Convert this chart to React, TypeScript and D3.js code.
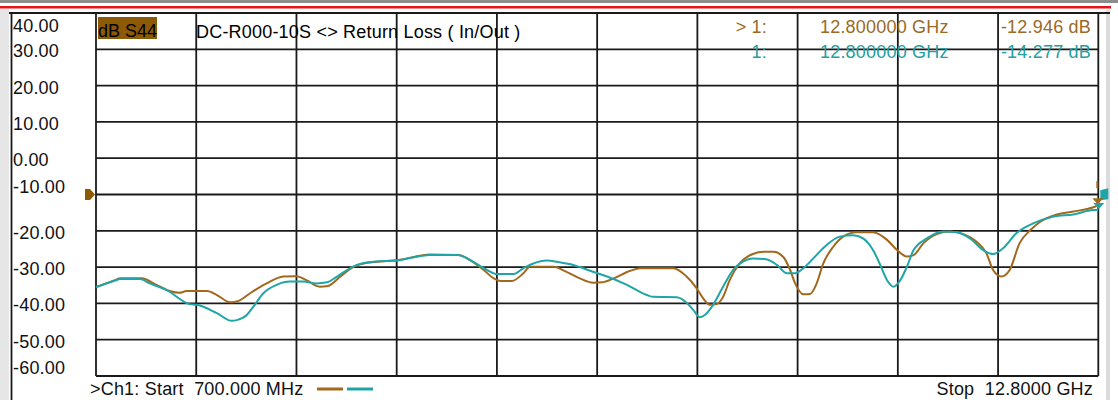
import React from 'react';
import * as d3 from 'd3';

// trace data (GHz, dB)
const freqS44Mem = [0.7, 0.93, 0.99, 1.25, 1.43, 1.59, 1.71, 1.79, 2.04, 2.16, 2.32, 2.42, 2.56, 2.76, 2.96, 3.12, 3.24, 3.4, 3.5, 3.65, 3.81, 3.93, 4.37, 4.73, 5.07, 5.21, 5.38, 5.5, 5.58, 5.72, 5.86, 5.94, 6.22, 6.38, 6.54, 6.7, 6.81, 6.95, 7.15, 7.27, 7.67, 7.83, 7.95, 8.03, 8.11, 8.19, 8.27, 8.35, 8.47, 8.63, 8.76, 8.88, 9.0, 9.08, 9.14, 9.24, 9.32, 9.4, 9.48, 9.6, 9.72, 9.88, 10.08, 10.25, 10.37, 10.49, 10.57, 10.69, 10.85, 11.01, 11.17, 11.33, 11.45, 11.53, 11.63, 11.73, 11.85, 11.98, 12.1, 12.3, 12.5, 12.74, 12.8];
const dbS44Mem = [-35.5, -33.6, -33.1, -33.1, -34.9, -36.6, -37.1, -36.6, -36.6, -37.7, -39.7, -39.3, -37.2, -34.5, -32.6, -32.5, -33.6, -35.4, -35.2, -32.6, -29.9, -29.0, -28.0, -26.5, -26.7, -28.0, -30.8, -33.1, -33.8, -33.8, -31.7, -29.9, -29.9, -31.3, -33.1, -34.3, -34.2, -33.1, -31.0, -30.3, -30.3, -32.6, -35.8, -38.6, -40.4, -40.2, -38.2, -33.6, -29.0, -26.4, -25.8, -25.8, -27.3, -30.8, -34.5, -37.5, -37.4, -34.5, -29.0, -24.4, -21.6, -20.4, -20.4, -22.5, -25.3, -27.1, -26.7, -23.4, -20.9, -20.2, -20.9, -23.0, -26.2, -30.8, -32.6, -30.8, -23.4, -19.8, -17.5, -15.5, -14.7, -13.5, -12.946];

const freqS44 = [0.7, 0.93, 0.99, 1.23, 1.35, 1.55, 1.83, 1.92, 2.16, 2.34, 2.4, 2.52, 2.6, 2.72, 2.88, 3.04, 3.2, 3.36, 3.49, 3.61, 3.73, 3.85, 4.05, 4.33, 4.61, 4.73, 5.07, 5.25, 5.42, 5.54, 5.74, 5.86, 5.98, 6.14, 6.3, 6.46, 6.7, 6.87, 7.11, 7.35, 7.43, 7.71, 7.83, 7.91, 7.99, 8.05, 8.15, 8.27, 8.39, 8.51, 8.63, 8.8, 8.92, 9.04, 9.14, 9.24, 9.36, 9.52, 9.68, 9.84, 9.96, 10.08, 10.16, 10.25, 10.33, 10.41, 10.49, 10.57, 10.73, 10.93, 11.09, 11.25, 11.41, 11.53, 11.65, 11.81, 12.02, 12.26, 12.5, 12.74, 12.8];
const dbS44 = [-35.6, -33.7, -33.3, -33.3, -34.5, -36.3, -40.2, -40.4, -42.7, -44.8, -44.6, -43.2, -40.9, -37.2, -34.9, -34.0, -34.0, -34.5, -34.2, -32.6, -30.8, -29.4, -28.5, -28.2, -27.0, -26.7, -26.7, -28.5, -30.8, -31.9, -31.9, -30.3, -29.0, -28.2, -28.7, -29.4, -31.3, -32.6, -34.9, -37.7, -38.2, -38.3, -39.8, -41.8, -43.8, -43.2, -40.4, -35.4, -30.8, -28.5, -27.6, -27.9, -29.4, -31.7, -31.7, -30.3, -27.6, -23.9, -21.6, -21.2, -22.1, -25.3, -29.0, -33.6, -35.4, -33.6, -29.9, -25.3, -22.1, -20.2, -20.4, -22.1, -25.3, -26.4, -24.8, -20.7, -17.9, -16.1, -15.5, -14.3, -14.277];

const yTicks = [40, 30, 20, 10, 0, -10, -20, -30, -40, -50, -60];
const xDivisions = d3.range(0, 11);
const startFreq = 0.7;
const stopFreq = 12.8;
const refLevel = -10;

const titleText = 'DC-R000-10S <> Return Loss ( In/Out )';
const traceLabel = 'dB S44';
const markerRows = [
  { name: '> 1:', freq: '12.800000 GHz', value: '-12.946 dB' },
  { name: '1:', freq: '12.800000 GHz', value: '-14.277 dB' },
];

const BROWN = '#a2691d';
const TEAL = '#1fa5a7';
const FONT = '"Liberation Sans", Arial, sans-serif';

const W = 1118;
const H = 400;
const left = 96;
const right = 1098.3;
const top = 13;
const bottom = 376;

const App: React.FC = () => {
  const x = d3.scaleLinear().domain([startFreq, stopFreq]).range([left, right]);
  const y = d3.scaleLinear().domain([-60, 40]).range([bottom, top]);
  const gx = d3.scaleLinear().domain([0, 10]).range([left, right]);

  const line = d3.line<[number, number]>()
    .x(d => x(d[0]))
    .y(d => y(d[1]))
    .curve(d3.curveMonotoneX);

  const memPts = freqS44Mem.map((f, i) => [f, dbS44Mem[i]] as [number, number]);
  const datPts = freqS44.map((f, i) => [f, dbS44[i]] as [number, number]);

  // labels sit just under their grid line, clamped inside the frame
  const labelY = (v: number) => {
    if (v === refLevel) return y(v) - 1.5;
    return Math.min(374, Math.max(32, y(v) + 8));
  };

  const mx = x(stopFreq);
  const myB = y(dbS44Mem[dbS44Mem.length - 1]);
  const myT = y(dbS44[dbS44.length - 1]);
  const ry = y(refLevel);

  return (
    <svg width={W} height={H} style={{ position: 'absolute', left: 0, top: 0, background: '#fff' }}
      fontFamily={FONT} fontSize={18} letterSpacing={0.2}>
      {/* window chrome */}
      <rect x={0} y={0} width={W} height={3} fill="#8d8d8d" />
      <rect x={0} y={6} width={1111} height={2.5} fill="#e8141c" />
      <rect x={0} y={9} width={9} height={H - 9} fill="#e6e6e6" />
      <rect x={1106} y={10} width={4} height={H - 10} fill="#dcdcdc" />
      <line x1={11.5} x2={11.5} y1={top} y2={H} stroke="#1a1a1a" strokeWidth={1.8} />
      <line x1={9} x2={1110} y1={top} y2={top} stroke="#1a1a1a" strokeWidth={1.8} />

      {/* grid */}
      <g stroke="#1a1a1a" strokeWidth={1.8}>
        {xDivisions.map(i => (
          <line key={'v' + i} x1={gx(i)} x2={gx(i)} y1={top} y2={bottom} />
        ))}
        {yTicks.map(v => (
          <line key={'h' + v} x1={left} x2={right} y1={y(v)} y2={y(v)} />
        ))}
      </g>

      {/* y labels */}
      <g fill="#111">
        {yTicks.map(v => (
          <text key={'l' + v} x={13} y={labelY(v)}>{v.toFixed(2)}</text>
        ))}
      </g>

      {/* reference level marker */}
      <path d={`M${left - 11},${ry - 5.5} L${left - 6},${ry - 5.5} L${left - 1},${ry} L${left - 6},${ry + 5.5} L${left - 11},${ry + 5.5} Z`} fill="#8c5a06" />

      {/* traces */}
      <path d={line(memPts) ?? ''} fill="none" stroke={BROWN} strokeWidth={2} />
      <path d={line(datPts) ?? ''} fill="none" stroke={TEAL} strokeWidth={2} />

      {/* end markers */}
      <line x1={mx - 1} x2={mx - 1} y1={myB - 24} y2={myB - 17} stroke={BROWN} strokeWidth={2} />
      <path d={`M${mx + 2},${myB - 15} L${mx + 10},${myB - 17} L${mx + 10},${myB - 6} L${mx + 2},${myB - 5} Z`} fill={TEAL} />
      <path d={`M${mx - 6},${myB - 7} L${mx + 5},${myB - 7} L${mx - 0.5},${myB - 1} Z`} fill={BROWN} />
      <path d={`M${mx - 5},${myT - 7} L${mx + 6},${myT - 7} L${mx + 0.5},${myT - 1} Z`} fill={TEAL} />

      {/* trace label & title */}
      <rect x={98} y={17} width={59} height={22} fill="#8c5a06" />
      <text x={98} y={37} fill="#000" letterSpacing={0}>{traceLabel}</text>
      <text x={196} y={38} fill="#000" style={{ whiteSpace: 'pre' }}>{titleText}</text>

      {/* marker readout */}
      {markerRows.map((r, i) => (
        <g key={'m' + i} fill={i === 0 ? '#9a6a26' : '#23a0a2'}>
          <text x={767} y={33 + i * 25} textAnchor="end">{r.name}</text>
          <text x={820} y={33 + i * 25}>{r.freq}</text>
          <text x={1091} y={33 + i * 25} textAnchor="end">{r.value}</text>
        </g>
      ))}

      {/* footer */}
      <text x={90} y={395} fill="#111" style={{ whiteSpace: 'pre' }}>{'>Ch1: Start  700.000 MHz'}</text>
      <line x1={317} x2={343} y1={389} y2={389} stroke={BROWN} strokeWidth={3} />
      <line x1={347} x2={373} y1={389} y2={389} stroke={TEAL} strokeWidth={3} />
      <text x={1093} y={395} fill="#111" textAnchor="end" style={{ whiteSpace: 'pre' }}>{'Stop  12.8000 GHz'}</text>
    </svg>
  );
};

export default App;
